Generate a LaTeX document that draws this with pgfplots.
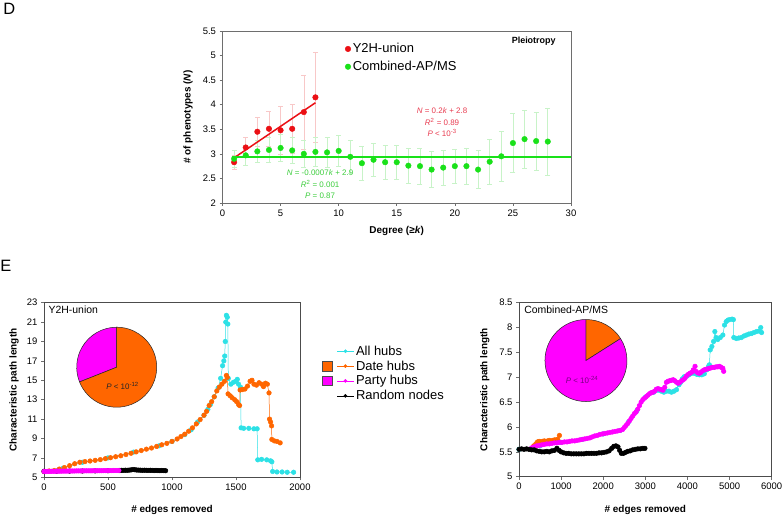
\documentclass[border=0pt]{standalone}
\usepackage{pgfplots}
\pgfplotsset{compat=1.18}
\usepackage{fontspec}
\setmainfont{Liberation Sans}
\definecolor{cy}{RGB}{45,225,230}
\definecolor{orng}{RGB}{255,102,0}
\definecolor{mag}{RGB}{255,0,255}
\definecolor{myred}{RGB}{235,15,20}
\definecolor{mygreen}{RGB}{25,225,25}
\definecolor{rdlight}{RGB}{248,200,200}
\definecolor{grlight}{RGB}{200,243,200}
\definecolor{rdtext}{RGB}{232,60,80}
\definecolor{grtext}{RGB}{60,205,60}
\definecolor{axgray}{RGB}{110,110,110}
\definecolor{ptext}{RGB}{120,0,130}
\pgfplotsset{
  every axis/.append style={
    scale only axis,
    axis line style={axgray, line width=0.9pt},
    tick style={axgray, line width=0.6pt},
    tick align=outside,
    major tick length=3bp,
    xtick pos=bottom, ytick pos=left,
    /pgf/number format/assume math mode=true,
    /pgf/number format/1000 sep={},
    scaled ticks=false,
    tick label style={font=\fontsize{9.5}{11}\selectfont},
    label style={font=\bfseries\fontsize{10}{12}\selectfont},
  },
  ser/.style={line width=0.5pt, mark=*, mark size=2.3bp, mark options={solid}, forget plot},
}
\begin{document}
\begin{tikzpicture}
\useasboundingbox (0bp,0bp) rectangle (782bp,516bp);
\node[font=\fontsize{16.5}{18}\selectfont] at (9.2bp,506.8bp) {D};
\node[font=\fontsize{16.5}{18}\selectfont] at (5.8bp,250bp) {E};

% ---------------- Panel D ----------------
\begin{axis}[at={(222.5bp,313bp)}, anchor=south west, width=348.5bp, height=172bp,
  xmin=0, xmax=30, ymin=2, ymax=5.5,
  xtick={0,5,...,30}, ytick={2,2.5,3,3.5,4,4.5,5,5.5},
  xlabel={Degree (≥\textit{k})}, ylabel={\# of phenotypes (\textit{N})},
  xlabel style={at={(axis description cs:0.5,-0.165)}, anchor=center},
  ylabel style={at={(axis description cs:-0.099,0.5)}, anchor=center},
  legend style={at={(axis description cs:0.3515,0.94)}, anchor=north west, draw=none, fill=none,
    inner sep=0pt, row sep=2.9bp, font=\fontsize{13}{15}\selectfont, nodes={inner sep=2bp}},
  legend cell align=left,
]
\addplot[only marks, mark=*, mark size=2.8bp, color=myred,
  error bars/.cd, y dir=both, y explicit,
  error bar style={rdlight, line width=0.6pt},
  error mark options={rdlight, rotate=90, mark size=2.5bp, line width=0.6pt}]
  coordinates {
  (1,2.83) +- (0,0.14)
  (2,3.13) +- (0,0.21)
  (3,3.45) +- (0,0.30)
  (4,3.51) +- (0,0.36)
  (5,3.48) +- (0,0.48)
  (6,3.51) +- (0,0.50)
  (7,3.85) +- (0,0.75)
  (8,4.15) +- (0,0.92)
  };
\addlegendentry{Y2H-union}
\addplot[only marks, mark=*, mark size=2.8bp, color=mygreen,
  error bars/.cd, y dir=both, y explicit,
  error bar style={grlight, line width=0.6pt},
  error mark options={grlight, rotate=90, mark size=2.5bp, line width=0.6pt}]
  coordinates {
  (1,2.90) +- (0,0.18)
  (2,2.97) +- (0,0.20)
  (3,3.05) +- (0,0.22)
  (4,3.08) +- (0,0.25)
  (5,3.12) +- (0,0.27)
  (6,3.07) +- (0,0.27)
  (7,3.00) +- (0,0.28)
  (8,3.04) +- (0,0.30)
  (9,3.03) +- (0,0.30)
  (10,3.06) +- (0,0.32)
  (11,2.94) +- (0,0.33)
  (12,2.81) +- (0,0.34)
  (13,2.88) +- (0,0.34)
  (14,2.83) +- (0,0.35)
  (15,2.83) +- (0,0.35)
  (16,2.76) +- (0,0.35)
  (17,2.75) +- (0,0.36)
  (18,2.68) +- (0,0.37)
  (19,2.72) +- (0,0.36)
  (20,2.75) +- (0,0.35)
  (21,2.75) +- (0,0.36)
  (22,2.68) +- (0,0.39)
  (23,2.84) +- (0,0.45)
  (24,2.95) +- (0,0.50)
  (25,3.22) +- (0,0.60)
  (26,3.30) +- (0,0.59)
  (27,3.26) +- (0,0.59)
  (28,3.25) +- (0,0.68)
  };
\addlegendentry{Combined-AP/MS}
\addplot[color=myred, line width=1.5pt, mark=none, forget plot] coordinates {(1,2.92) (8,4.04)};
\addplot[color=mygreen, line width=1.6pt, mark=none, forget plot] coordinates {(0.8,2.93) (30,2.93)};
\node[rdtext, font=\fontsize{8}{11.5}\selectfont, align=center] at (axis cs:18.9,3.64)
  {\textit{N} = 0.2\textit{k} + 2.8\\ \textit{R}\textsuperscript{2} = 0.89\\ \textit{P} < 10\textsuperscript{-3}};
\node[grtext, font=\fontsize{8}{11.5}\selectfont, align=center] at (axis cs:8.4,2.38)
  {\textit{N} = -0.0007\textit{k} + 2.9\\ \textit{R}\textsuperscript{2} = 0.001\\ \textit{P} = 0.87};
\node[anchor=east, font=\bfseries\fontsize{9}{10}\selectfont] at (axis description cs:0.966,0.94) {Pleiotropy};
\end{axis}

% ---------------- Panel E left ----------------
\begin{axis}[at={(44bp,38.7bp)}, anchor=south west, width=256bp, height=174.6bp,
  xmin=0, xmax=2000, ymin=5, ymax=23,
  xtick={0,500,...,2000}, ytick={5,7,...,23},
  xlabel={\# edges removed}, ylabel={Characteristic path length},
  xlabel style={at={(axis description cs:0.5,-0.187)}, anchor=center},
  ylabel style={at={(axis description cs:-0.117,0.5)}, anchor=center},
  axis line style={black!70, line width=0.9pt},
  legend style={at={(axis description cs:1.0848,0.7658)}, anchor=north west, draw=none, fill=none,
    inner sep=0pt, font=\fontsize{13}{15}\selectfont},
  legend cell align=left,
]
\addlegendimage{legend image code/.code={\draw[cy,line width=0.5pt] (0bp,0bp) -- (16.7bp,0bp); \fill[cy] (8.3bp,0bp) circle (1.6bp);}}
\addlegendentry{All hubs}
\addlegendimage{legend image code/.code={\draw[black!70,fill=orng,line width=0.4pt] (-15bp,-4.7bp) rectangle (-5bp,4.7bp); \draw[orng,line width=0.5pt] (0bp,0bp) -- (16.7bp,0bp); \fill[orng] (8.3bp,0bp) circle (1.6bp);}}
\addlegendentry{Date hubs}
\addlegendimage{legend image code/.code={\draw[black!70,fill=mag,line width=0.4pt] (-15bp,-4.7bp) rectangle (-5bp,4.7bp); \draw[mag,line width=0.5pt] (0bp,0bp) -- (16.7bp,0bp); \fill[mag] (8.3bp,0bp) circle (1.6bp);}}
\addlegendentry{Party hubs}
\addlegendimage{legend image code/.code={\draw[black,line width=0.5pt] (0bp,0bp) -- (16.7bp,0bp); \fill[black] (8.3bp,0bp) circle (1.6bp);}}
\addlegendentry{Random nodes}
% All hubs
\addplot[ser, cy] coordinates {
(0,5.6) (150,5.95) (300,6.55) (500,7.0) (700,7.6) (900,8.25) (1000,8.7) (1100,9.4) (1150,9.9)
(1200,10.7) (1250,11.4) (1280,12.0) (1300,12.5) (1330,13.3) (1360,14.2) (1380,15.2) (1395,16.5)
(1405,17.0) (1412,17.5) (1416,19.0) (1420,21.0) (1425,21.7) (1432,21.5) (1436,20.8) (1440,15.2)
(1460,14.6) (1480,14.8) (1500,14.9) (1510,15.1) (1520,14.6) (1535,14.3) (1540,10.1) (1560,10.05)
(1600,10.05) (1640,10.0) (1665,10.0) (1670,6.8) (1700,6.85) (1740,6.8) (1770,6.7) (1780,6.6)
(1786,5.6) (1820,5.55) (1860,5.55) (1900,5.52) (1950,5.52)
};
% Date hubs
\addplot[ser, orng] coordinates {
(0,5.6) (40,5.65) (80,5.7) (120,5.85) (160,6.0) (200,6.2) (240,6.4) (280,6.55) (320,6.62) (360,6.68)
(400,6.75) (440,6.82) (480,6.92) (520,7.02) (560,7.12) (600,7.22) (640,7.35) (680,7.48) (720,7.62)
(760,7.76) (800,7.9) (840,8.02) (880,8.18) (920,8.35) (960,8.5) (1000,8.7) (1040,8.95) (1070,9.2)
(1100,9.45) (1130,9.75) (1160,10.1) (1190,10.5) (1220,10.95) (1250,11.4) (1270,11.8) (1290,12.4)
(1310,12.8) (1330,13.3) (1350,13.9) (1370,14.3) (1390,14.6) (1410,14.9) (1425,15.5) (1432,15.3)
(1438,13.6) (1455,13.4) (1470,13.2) (1490,13.0) (1505,12.8) (1520,12.5) (1528,12.4) (1532,14.0)
(1550,14.05) (1570,14.1) (1590,14.4) (1610,14.9) (1625,15.0) (1640,14.6) (1660,14.5) (1680,14.75)
(1700,14.6) (1715,14.35) (1730,14.7) (1745,14.6) (1758,13.7) (1762,11.0) (1770,10.7) (1778,10.3)
(1780,8.9) (1800,8.75) (1820,8.7) (1845,8.55)
};
% Random nodes
\addplot[ser, black] coordinates {
(0,5.62) (100,5.63) (200,5.64) (300,5.65) (400,5.66) (500,5.68) (590,5.7) (605,5.72) (620,5.71)
(635,5.73) (650,5.72) (665,5.74) (680,5.76) (695,5.8) (710,5.78) (725,5.75) (740,5.74) (755,5.73)
(770,5.72) (785,5.73) (800,5.72) (815,5.71) (830,5.72) (845,5.71) (860,5.7) (875,5.71) (890,5.7)
(905,5.69) (920,5.7) (935,5.69) (950,5.68)
};
% Party hubs
\addplot[ser, mag] coordinates {
(0,5.6) (15,5.6) (30,5.61) (45,5.61) (60,5.62) (75,5.62) (90,5.62) (105,5.63) (120,5.63) (135,5.63)
(150,5.64) (165,5.64) (180,5.64) (195,5.65) (210,5.65) (225,5.65) (240,5.65) (255,5.66) (270,5.66)
(285,5.66) (300,5.66) (315,5.67) (330,5.67) (345,5.67) (360,5.67) (375,5.67) (390,5.68) (405,5.68)
(420,5.68) (435,5.68) (450,5.68) (465,5.69) (480,5.69) (495,5.69) (510,5.69) (525,5.69) (540,5.7)
(555,5.7) (570,5.7) (585,5.7)
};
% pie: Date hubs 69 %, Party hubs 31 %
\fill[mag, draw=black!85, line width=0.5pt] (axis cs:568,16.35) -- ++(90:40bp) arc[start angle=90, end angle={90+0.31*360}, radius=40bp] -- cycle;
\fill[orng, draw=black!85, line width=0.5pt] (axis cs:568,16.35) -- ++({90+0.31*360}:40bp) arc[start angle={90+0.31*360}, end angle=450, radius=40bp] -- cycle;
\node[black!85, font=\fontsize{8}{9}\selectfont] at (axis cs:613,14.41) {\textit{P} < 10\textsuperscript{-12}};
\node[anchor=west, font=\fontsize{10.5}{12}\selectfont] at (axis description cs:0.004,0.958) {Y2H-union};
\end{axis}

% ---------------- Panel E right ----------------
\begin{axis}[at={(519bp,39.3bp)}, anchor=south west, width=252.7bp, height=174bp,
  xmin=0, xmax=6000, ymin=5, ymax=8.5,
  xtick={0,1000,...,6000}, ytick={5,5.5,6,6.5,7,7.5,8,8.5},
  xlabel={\# edges removed}, ylabel={Characteristic path length},
  xlabel style={at={(axis description cs:0.5,-0.192)}, anchor=center},
  ylabel style={at={(axis description cs:-0.135,0.5)}, anchor=center},
  axis line style={black!70, line width=0.9pt},
]
% All hubs
\addplot[ser, cy] coordinates {
(0,5.55) (500,5.62) (1000,5.69) (1500,5.75) (2000,5.86) (2400,5.93) (2600,6.1) (2800,6.33) (3000,6.6)
(3200,6.7) (3300,6.74) (3380,6.72) (3440,6.7) (3500,6.72) (3560,6.72) (3620,6.7) (3680,6.72)
(3740,6.75) (3800,6.85) (3840,6.9) (3880,6.97) (3920,7.01) (3980,7.02) (4040,7.05) (4100,7.08)
(4160,7.08) (4220,7.06) (4280,7.05) (4340,7.05) (4400,7.07) (4460,7.15) (4500,7.22) (4520,7.25)
(4540,7.55) (4580,7.62) (4620,7.72) (4650,7.92) (4680,7.8) (4720,7.76) (4780,7.8) (4840,7.85)
(4880,8.05) (4920,8.12) (4960,8.15) (5000,8.16) (5060,8.17) (5090,8.16) (5100,7.8) (5160,7.78)
(5220,7.79) (5280,7.8) (5340,7.83) (5400,7.85) (5460,7.87) (5520,7.88) (5580,7.9) (5640,7.92)
(5700,7.93) (5740,8.0) (5760,7.9)
};
% Date hubs
\addplot[ser, orng] coordinates {
(350,5.62) (400,5.66) (440,5.7) (480,5.71) (520,5.7) (560,5.71) (600,5.72) (640,5.7) (680,5.72)
(720,5.73) (760,5.71) (800,5.73) (840,5.74) (880,5.74) (920,5.75) (960,5.83)
};
% Party hubs
\addplot[ser, mag] coordinates {
(300,5.58) (360,5.6) (420,5.62) (480,5.63) (540,5.64) (600,5.65) (660,5.66) (720,5.66) (780,5.67)
(840,5.68) (900,5.68) (960,5.69) (1020,5.69) (1080,5.7) (1140,5.7) (1200,5.71) (1260,5.72)
(1320,5.72) (1380,5.73) (1440,5.74) (1500,5.75) (1560,5.76) (1620,5.77) (1680,5.78) (1740,5.8)
(1800,5.82) (1860,5.83) (1920,5.85) (1980,5.86) (2040,5.87) (2100,5.88) (2160,5.89) (2220,5.9)
(2280,5.91) (2340,5.92) (2400,5.93) (2460,5.95) (2500,5.99) (2540,6.03) (2580,6.07) (2620,6.12)
(2660,6.17) (2700,6.22) (2740,6.27) (2780,6.3) (2820,6.36) (2860,6.43) (2900,6.5) (2940,6.55)
(2980,6.58) (3020,6.61) (3060,6.64) (3100,6.67) (3140,6.69) (3180,6.7) (3220,6.72) (3260,6.76)
(3300,6.77) (3340,6.76) (3380,6.75) (3420,6.74) (3460,6.8) (3500,6.9) (3540,6.92) (3580,6.93)
(3620,6.94) (3660,6.95) (3700,6.93) (3740,6.9) (3780,6.88) (3820,6.9) (3860,6.93) (3900,6.95)
(3940,6.98) (3980,7.03) (4020,7.06) (4060,7.08) (4100,7.1) (4140,7.15) (4180,7.22) (4200,7.12)
(4240,7.09) (4280,7.08) (4320,7.1) (4360,7.13) (4400,7.15) (4440,7.16) (4480,7.17) (4520,7.18)
(4560,7.19) (4600,7.2) (4640,7.2) (4680,7.21) (4720,7.21) (4760,7.22) (4800,7.2) (4840,7.18)
(4860,7.12)
};
% Random nodes
\addplot[ser, black] coordinates {
(0,5.55) (60,5.56) (120,5.55) (180,5.56) (240,5.55) (300,5.54) (360,5.54) (420,5.52) (480,5.51)
(540,5.5) (600,5.5) (660,5.51) (720,5.5) (780,5.52) (840,5.53) (900,5.57) (950,5.53) (1000,5.5)
(1060,5.48) (1120,5.47) (1180,5.47) (1240,5.46) (1300,5.46) (1360,5.46) (1420,5.46) (1480,5.46)
(1540,5.46) (1600,5.47) (1660,5.47) (1720,5.47) (1780,5.47) (1840,5.47) (1900,5.48) (1960,5.48)
(2020,5.49) (2080,5.5) (2140,5.52) (2200,5.57) (2250,5.61) (2300,5.62) (2350,5.6) (2390,5.53)
(2430,5.47) (2480,5.47) (2530,5.49) (2580,5.51) (2640,5.52) (2700,5.54) (2760,5.55) (2820,5.56)
(2880,5.56) (2940,5.57) (2990,5.57)
};
% pie: Date hubs 16 %, Party hubs 84 %
\fill[orng, draw=black!85, line width=0.5pt] (axis cs:1590,7.337) -- ++({90-0.16*360}:41bp) arc[start angle={90-0.16*360}, end angle=90, radius=41bp] -- cycle;
\fill[mag, draw=black!85, line width=0.5pt] (axis cs:1590,7.337) -- ++(90:41bp) arc[start angle=90, end angle={450-0.16*360}, radius=41bp] -- cycle;
\node[ptext, font=\fontsize{8}{9}\selectfont] at (axis cs:1496,6.945) {\textit{P} < 10\textsuperscript{-24}};
\node[anchor=west, font=\fontsize{10.5}{12}\selectfont] at (axis description cs:0.007,0.958) {Combined-AP/MS};
\end{axis}
\end{tikzpicture}
\end{document}
